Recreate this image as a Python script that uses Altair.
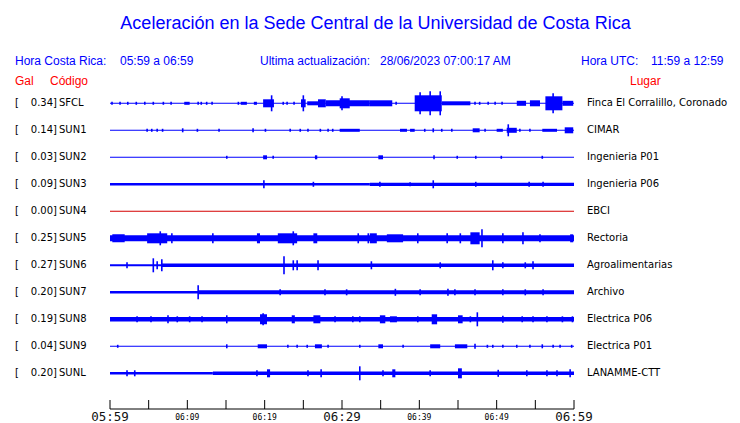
import altair as alt
import pandas as pd

# ---------------- data ----------------
TITLE = "Aceleración en la Sede Central de la Universidad de Costa Rica"
STATIONS = ["SFCL", "SUN1", "SUN2", "SUN3", "SUN4", "SUN5", "SUN6", "SUN7", "SUN8", "SUN9", "SUNL"]
PEAK_GAL = [0.34, 0.14, 0.03, 0.09, 0.00, 0.25, 0.27, 0.20, 0.19, 0.04, 0.20]
PLACES = ["Finca El Corralillo, Coronado", "CIMAR", "Ingenieria P01", "Ingenieria P06", "EBCI",
          "Rectoria", "Agroalimentarias", "Archivo", "Electrica P06", "Electrica P01", "LANAMME-CTT"]
TRACE_COLORS = ["#0000ff", "#0000ff", "#0000ff", "#0000ff", "#d40000", "#0000ff",
                "#0000ff", "#0000ff", "#0000ff", "#0000ff", "#0000ff"]

# envelope bands: (minute start, minute end, half amplitude in px) ; minutes after 05:59
SFCL_BANDS = [(0, 60, 0.5), (9.6, 10.3, 1.5), (16.9, 17.7, 1.5), (18.6, 19.0, 1.5), (19.8, 21.2, 4),
              (24.7, 25.3, 4), (25.5, 26.9, 2), (26.9, 27.9, 4), (27.9, 33.6, 3), (29.7, 31.0, 5),
              (33.6, 36.5, 3), (39.4, 42.9, 8), (42.9, 46.6, 2), (52.6, 53.8, 2.5), (54.3, 55.6, 3),
              (56.3, 58.5, 7), (58.5, 59.9, 2.5)]
SFCL_SPIKES = [(0.26, 1.5), (1.3, 1.5), (2.3, 1.5), (3.4, 1.5), (4.5, 1.5), (5.6, 1.5), (6.9, 1.5),
               (7.9, 1.5), (11.4, 1.5), (11.8, 1.5), (12.5, 1.5), (13.2, 1.5), (16.6, 1.5), (20.9, 8),
               (22.4, 1.5), (22.9, 1.5), (23.8, 1.5), (25.0, 8), (30.0, 7), (37.0, 1.5), (40.1, 11),
               (41.4, 12), (42.7, 12), (47.2, 1.5), (47.8, 1.5), (48.9, 1.5), (49.8, 1.5), (50.7, 1.5),
               (57.3, 10)]

SUN1_BANDS = [(0, 60, 0.5), (29.7, 32.3, 1.5), (37.5, 38.4, 1.5), (38.8, 39.4, 1.5), (46.9, 47.8, 2),
              (50.0, 50.8, 1.5), (51.3, 52.6, 2.5), (55.9, 57.8, 1.5), (58.8, 59.9, 3)]
SUN1_SPIKES = [(4.8, 1.5), (5.4, 1.5), (6.1, 1.5), (6.8, 1.5), (9.4, 2), (11.3, 1.5), (14.1, 1.5),
               (18.5, 2), (20.1, 1.5), (23.3, 1.5), (24.6, 1.5), (25.6, 1.5), (27.2, 1.5), (28.2, 1.5),
               (28.8, 1.5), (40.7, 1.5), (41.8, 2), (42.9, 1.5), (44.2, 1.5), (48.5, 1.5), (51.5, 6),
               (53.0, 1.5), (54.3, 1.5)]

SUN2_BANDS = [(0, 60, 0.5), (19.8, 20.3, 2), (26.5, 26.8, 2), (34.7, 35.3, 2), (41.8, 42.0, 2)]
SUN2_SPIKES = [(15.1, 1.5), (21.1, 1.5), (44.9, 1.5), (47.3, 1.5), (50.6, 1.5), (55.9, 1.5)]

SUN3_BANDS = [(0, 33.6, 1.2), (33.6, 60, 1.6)]
SUN3_SPIKES = [(19.9, 4), (26.3, 2.5), (34.9, 2.5), (38.8, 2), (41.8, 4), (47.3, 2.5), (54.2, 2.5),
               (56.0, 2.5)]

SUN4_BANDS = [(0, 60, 0.5)]
SUN4_SPIKES = []

SUN5_BANDS = [(0, 60, 3), (0.3, 1.9, 4), (4.8, 7.4, 5), (19.0, 19.4, 5), (21.7, 24.2, 5), (26.3, 26.8, 5),
              (33.6, 34.5, 5), (35.8, 37.9, 4), (46.6, 47.8, 6), (59.5, 59.9, 4)]
SUN5_SPIKES = [(6.5, 7), (8.0, 5), (13.3, 5), (23.7, 7), (32.1, 5), (33.4, 5), (39.8, 5), (43.6, 5),
               (45.3, 5), (48.1, 9), (50.8, 5), (53.4, 6), (55.6, 4)]

SUN6_BANDS = [(0, 6.7, 1.0), (6.7, 60, 1.8)]
SUN6_SPIKES = [(2.2, 3), (5.6, 7), (6.1, 4), (6.7, 6), (22.5, 9), (23.7, 5), (24.2, 5), (26.9, 5),
               (33.8, 4), (42.7, 3), (49.5, 5), (50.8, 3), (53.7, 3), (54.7, 4)]

SUN7_BANDS = [(0, 11.4, 1.3), (11.4, 60, 2.0)]
SUN7_SPIKES = [(11.4, 7), (22.0, 3), (27.8, 3), (30.6, 3), (36.9, 3.5), (40.1, 3), (43.7, 3.5),
               (44.6, 3), (47.2, 3), (50.8, 3), (53.7, 3), (56.0, 3)]

SUN8_BANDS = [(0, 60, 2.2), (19.4, 20.3, 5), (23.5, 23.9, 4), (26.3, 27.2, 4), (34.9, 35.6, 4),
              (36.2, 37.1, 3), (41.6, 42.3, 5), (45.0, 45.6, 4)]
SUN8_SPIKES = [(3.5, 3), (5.3, 3), (7.5, 4), (8.7, 3), (10.3, 3), (11.9, 3), (15.1, 4), (19.8, 6),
               (29.1, 3), (31.4, 3), (32.3, 3), (39.8, 3), (46.6, 3), (47.5, 7), (50.8, 3.5), (53.3, 3),
               (54.7, 3), (56.5, 3), (58.5, 3), (59.8, 3)]

SUN9_BANDS = [(0, 60, 0.5), (19.1, 20.3, 2), (26.5, 27.4, 2), (34.7, 35.3, 2), (41.4, 42.7, 2),
              (44.6, 46.2, 2)]
SUN9_SPIKES = [(1.0, 1.5), (15.1, 2), (23.0, 1.5), (24.2, 1.5), (25.5, 1.5), (28.2, 1.5), (32.3, 1.5),
               (37.9, 1.5), (47.2, 2.5), (48.8, 1.5), (49.5, 1.5), (50.8, 1.5), (52.6, 1.5), (54.3, 1.5),
               (55.9, 2), (57.3, 1.5), (58.2, 1.5), (59.7, 1.5)]

SUNL_BANDS = [(0, 13.3, 1.2), (13.3, 60, 1.8), (20.3, 20.7, 4), (36.5, 36.9, 4), (45.0, 45.5, 5)]
SUNL_SPIKES = [(2.2, 3), (3.2, 3), (19.0, 3), (25.6, 3), (27.3, 4), (32.3, 7), (35.3, 3), (41.4, 3),
               (50.2, 3.5), (53.9, 3), (56.5, 3), (57.8, 3), (59.5, 4)]

TICK_MINUTES = [0, 5, 10, 15, 20, 25, 30, 35, 40, 45, 50, 55, 60]
BIG_LABEL_MINUTES = [0, 30, 60]
BIG_LABELS = ["05:59", "06:29", "06:59"]
SMALL_LABEL_MINUTES = [10, 20, 40, 50]
SMALL_LABELS = ["06:09", "06:19", "06:39", "06:49"]

ALL_BANDS = [SFCL_BANDS, SUN1_BANDS, SUN2_BANDS, SUN3_BANDS, SUN4_BANDS, SUN5_BANDS,
             SUN6_BANDS, SUN7_BANDS, SUN8_BANDS, SUN9_BANDS, SUNL_BANDS]
ALL_SPIKES = [SFCL_SPIKES, SUN1_SPIKES, SUN2_SPIKES, SUN3_SPIKES, SUN4_SPIKES, SUN5_SPIKES,
              SUN6_SPIKES, SUN7_SPIKES, SUN8_SPIKES, SUN9_SPIKES, SUNL_SPIKES]

# ---------------- build tables ----------------
PITCH = 27  # px between trace rows
band_rows, spike_rows = [], []
for i, (st, col) in enumerate(zip(STATIONS, TRACE_COLORS)):
    c = i * PITCH
    for t0, t1, a in ALL_BANDS[i]:
        band_rows.append({"st": st, "t0": t0, "t1": t1, "lo": c - a, "hi": c + a, "color": col})
    for t, a in ALL_SPIKES[i]:
        spike_rows.append({"st": st, "t": t, "lo": c - a, "hi": c + a, "color": col})
bands = pd.DataFrame(band_rows)
spikes = pd.DataFrame(spike_rows)

labels = pd.DataFrame({
    "pos": [i * PITCH for i in range(len(STATIONS))],
    "val": [f"{v:.2f}]" for v in PEAK_GAL],
    "code": STATIONS,
    "place": PLACES,
})

XS = alt.Scale(domain=[0, 60], range=[102, 566])
YS = alt.Scale(domain=[0, 270], range=[95.3, 365.3])

BLUE = "#0000ff"
RED = "#ff0000"
SANS = "Liberation Sans"
DJ = "DejaVu Sans"

band_layer = alt.Chart(bands).mark_rect().encode(
    x=alt.X("t0:Q", scale=XS, axis=None), x2="t1:Q",
    y=alt.Y("lo:Q", scale=YS, axis=None), y2="hi:Q",
    color=alt.Color("color:N", scale=None),
)
spike_layer = alt.Chart(spikes).mark_rule(strokeWidth=1.6).encode(
    x=alt.X("t:Q", scale=XS, axis=None),
    y=alt.Y("lo:Q", scale=YS, axis=None), y2="hi:Q",
    color=alt.Color("color:N", scale=None),
)


def row_text(field, x, align):
    return alt.Chart(labels).mark_text(
        x=x, align=align, baseline="middle", font=DJ, fontSize=10, color="black"
    ).encode(y=alt.Y("pos:Q", scale=YS, axis=None), text=f"{field}:N")


bracket_layer = alt.Chart(labels).mark_text(
    x=7, align="left", baseline="middle", font=DJ, fontSize=10, color="black", text="["
).encode(y=alt.Y("pos:Q", scale=YS, axis=None))
val_layer = row_text("val", 49, "right")
code_layer = row_text("code", 51, "left")
place_layer = row_text("place", 579, "left")


def text_layer(txt, x, y, color, size, font=SANS, align="left"):
    return alt.Chart(pd.DataFrame({"t": [txt]})).mark_text(
        x=x, y=y, align=align, baseline="alphabetic", color=color, fontSize=size, font=font
    ).encode(text="t:N")


headers = [
    text_layer(TITLE, 367.5, 21, BLUE, 18, align="center"),
    text_layer("Hora Costa Rica:", 7, 57, BLUE, 12),
    text_layer("05:59 a 06:59", 112, 57, BLUE, 12),
    text_layer("Ultima actualización:", 252, 57, BLUE, 12),
    text_layer("28/06/2023 07:00:17 AM", 372, 57, BLUE, 12),
    text_layer("Hora UTC:", 573, 57, BLUE, 12),
    text_layer("11:59 a 12:59", 643, 57, BLUE, 12),
    text_layer("Gal", 7, 77, RED, 12),
    text_layer("Código", 42, 77, RED, 12),
    text_layer("Lugar", 622, 77, RED, 12),
]

axis_line = alt.Chart(pd.DataFrame({"a": [TICK_MINUTES[0]], "b": [TICK_MINUTES[-1]]})).mark_rule(
    color="black", strokeWidth=1
).encode(x=alt.X("a:Q", scale=XS, axis=None), x2="b:Q", y=alt.value(401))
ticks = alt.Chart(pd.DataFrame({"t": TICK_MINUTES})).mark_rule(color="black", strokeWidth=1).encode(
    x=alt.X("t:Q", scale=XS, axis=None), y=alt.value(392), y2=alt.value(401)
)
big_labels = alt.Chart(pd.DataFrame({"t": BIG_LABEL_MINUTES, "lab": BIG_LABELS})).mark_text(
    y=413, align="center", baseline="alphabetic", font="DejaVu Sans Mono", fontSize=12.5,
    color="#111111"
).encode(x=alt.X("t:Q", scale=XS, axis=None), text="lab:N")
small_labels = alt.Chart(pd.DataFrame({"t": SMALL_LABEL_MINUTES, "lab": SMALL_LABELS})).mark_text(
    y=412, align="center", baseline="alphabetic", font="DejaVu Sans Mono", fontSize=8, color="black"
).encode(x=alt.X("t:Q", scale=XS, axis=None), text="lab:N")

chart = alt.layer(
    band_layer, spike_layer, bracket_layer, val_layer, code_layer, place_layer,
    *headers, axis_line, ticks, big_labels, small_labels
).properties(
    width=724, height=415, padding=0,
    autosize=alt.AutoSizeParams(type="none"),
    background="white",
).configure_view(stroke=None)

chart.save("out.html", embed_options={"renderer": "svg", "actions": False})
